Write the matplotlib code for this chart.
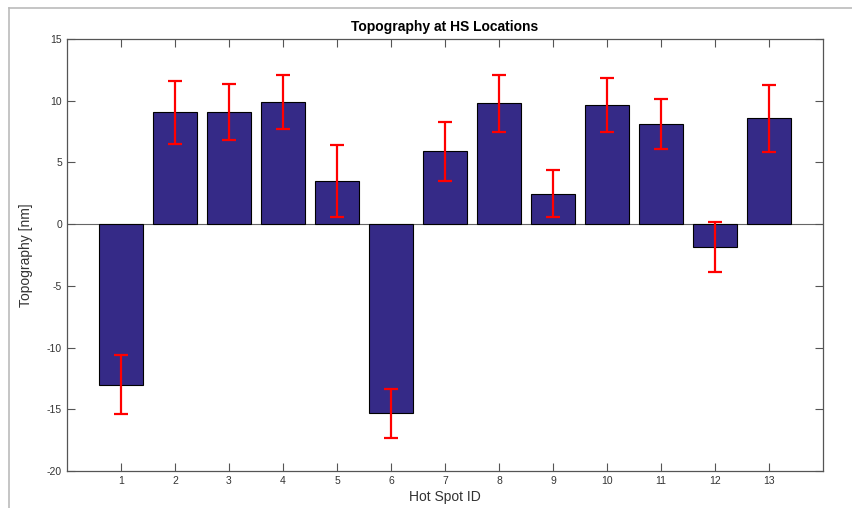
import numpy as np
import matplotlib.pyplot as plt
from matplotlib.lines import Line2D

plt.rcParams['font.family'] = ['Liberation Sans', 'DejaVu Sans']
plt.rcParams['axes.unicode_minus'] = False

# Datos: topografia en cada hot spot
spot_id = np.arange(1, 14)
topo = [-13.0, 9.05, 9.1, 9.91, 3.51, -15.34, 5.89, 9.78, 2.46, 9.62, 8.08, -1.84, 8.57]
topo_err = [2.42, 2.55, 2.25, 2.17, 2.93, 1.98, 2.37, 2.31, 1.92, 2.19, 2.02, 2.0, 2.69]

fig = plt.figure(figsize=(8.52, 5.08), dpi=100)
ax = fig.add_axes([67/852, 1 - 471/508, (823-67)/852, (471-39)/508])

ax.bar(spot_id, topo, width=0.8, color='#352A87', edgecolor='black', linewidth=0.8, zorder=2)
ax.errorbar(spot_id, topo, yerr=topo_err, fmt='none', ecolor='red', elinewidth=1.6,
            capsize=4.7, capthick=1.6, zorder=3)
ax.axhline(0, color='#666666', linewidth=0.8, zorder=1)

ax.set_xlim(0, 14)
ax.set_ylim(-20, 15)
ax.set_xticks(spot_id)
ax.set_yticks(np.arange(-20, 16, 5))
ax.tick_params(direction='in', length=5.5, width=0.8, colors='#555555', labelsize=7.5,
               top=True, right=True, labelcolor='#333333')
for s in ax.spines.values():
    s.set_color('#555555')
    s.set_linewidth(0.9)

ax.set_title("Topography at HS Locations", fontsize=10, fontweight='bold', pad=6)
ax.set_xlabel("Hot Spot ID", fontsize=10, color='#333333', labelpad=3)
ax.set_ylabel("Topography [nm]", fontsize=10, color='#333333', labelpad=10)

# marco exterior gris
fig.add_artist(Line2D([9/852, 1], [1 - 8/508, 1 - 8/508], color='#BBBBBB', linewidth=1.2))
fig.add_artist(Line2D([9/852, 9/852], [0, 1 - 8/508], color='#BBBBBB', linewidth=1.2))

fig.savefig('out.png', dpi=100)
